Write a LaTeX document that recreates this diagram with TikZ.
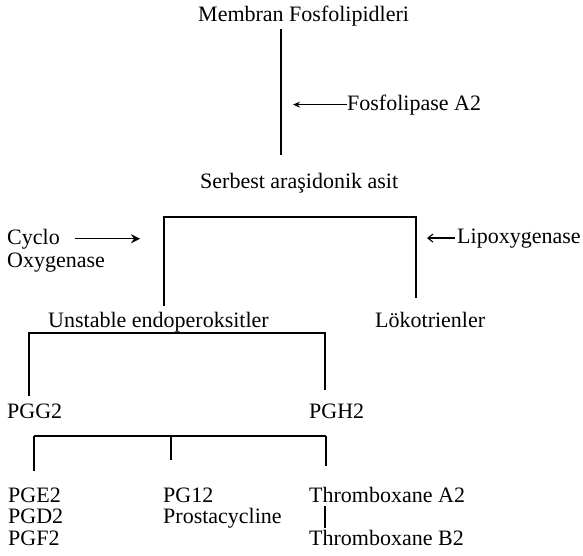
\documentclass[tikz,border=0pt]{standalone}
\usepackage{fontspec}
\setmainfont{Liberation Serif}
\usepackage{tikz}
\usetikzlibrary{arrows.meta}

\begin{document}
\begin{tikzpicture}[x=1pt, y=-1pt, >={Stealth[length=7pt,width=6pt]}, font=\fontsize{22}{24}\selectfont]
\tikzstyle{lbl}=[anchor=base west, inner sep=0pt]
\tikzstyle{link}=[line width=1.2pt]
\useasboundingbox (0,0) rectangle (583,555);
% membran -> serbest
\node[lbl] (membran) at (198,21) {Membran Fosfolipidleri};
\node[lbl] (fosfo) at (347,110) {Fosfolipase A2};
\node[lbl] (serbest) at (200,188) {Serbest araşidonik asit};
\coordinate (m1) at (281,29);
\coordinate (m2) at (281,155);
\coordinate (fa) at (293,0);
\draw[link] (m1) -- (m2);
\draw[link, ->] (fosfo.west) -- (fosfo.west -| fa);
% cyclo / lipo
\node[lbl] (cyclo) at (7,244) {Cyclo};
\node[lbl] (oxy) at (7,267) {Oxygenase};
\node[lbl] (lipo) at (457,243) {Lipoxygenase};
\coordinate (ca) at (140,0);
\coordinate (la) at (427,0);
\draw[link, -{Stealth[length=9pt,width=9pt,inset=3pt]}, shorten <=15pt] (cyclo.east) -- (cyclo.east -| ca);
\draw[link, -{Straight Barb[length=5pt,width=8pt]}, shorten <=2pt] (lipo.west) -- (lipo.west -| la);
\coordinate (b1) at (164,217);
\coordinate (b2) at (416,217);
\coordinate (b1d) at (164,306);
\coordinate (b2d) at (416,298);
\draw[link] (b1d) -- (b1) -- (b2) -- (b2d);
% endoperoksitler
\node[lbl] (unstable) at (48,327) {Unstable endoperoksitler};
\node[lbl] (loko) at (375,327) {Lökotrienler};
\coordinate (c1) at (29,333);
\coordinate (c2) at (325,333);
\coordinate (c1d) at (29,396);
\coordinate (c2d) at (325,390);
\draw[link] (c1d) -- (c1) -- (c2) -- (c2d);
% PGG2 / PGH2
\node[lbl] (pgg) at (7,418) {PGG2};
\node[lbl] (pgh) at (309,418) {PGH2};
\coordinate (d1) at (34,436);
\coordinate (d3) at (326,436);
\draw[link] (d1) -- (d3);
\foreach \n/\x/\y in {a/34/471, b/171/460, c/326/466}{\coordinate (dd\n) at (\x,\y); \draw[link] (dd\n) -- (dd\n |- d1);}
% products
\node[lbl] (pge) at (8,502) {PGE2};
\node[lbl] (pgd) at (8,523) {PGD2};
\node[lbl] (pgf) at (8,545) {PGF2};
\node[lbl] (pgi) at (163,502) {PG12};
\node[lbl] (prosta) at (163,523) {Prostacycline};
\node[lbl] (thxa) at (309,502) {Thromboxane A2};
\node[lbl] (thxb) at (309,545) {Thromboxane B2};
\coordinate (tx) at (325,0);
\draw[link, shorten <=4pt, shorten >=2pt] (thxa.south -| tx) -- (thxb.north -| tx);
\end{tikzpicture}
\end{document}
